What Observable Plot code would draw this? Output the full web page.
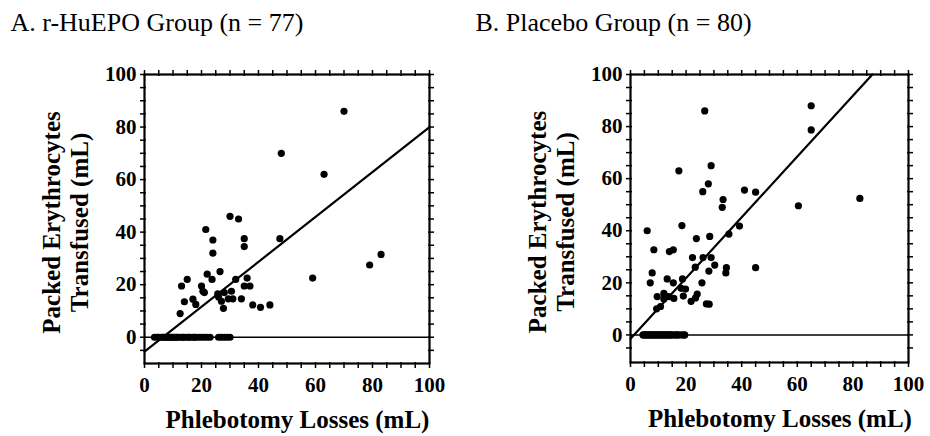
<!DOCTYPE html>
<html><head><meta charset="utf-8">
<script src="https://cdn.jsdelivr.net/npm/d3@7"></script>
<script src="https://cdn.jsdelivr.net/npm/@observablehq/plot@0.6"></script>
<style>
body{margin:0;background:#fff;}
#wrap{position:relative;width:930px;height:436px;overflow:hidden;}
.panel{position:absolute;top:0;}
</style></head><body><div id="wrap"></div>
<script>
// ---- tick labels ----
const xTickLabels = [0, 20, 40, 60, 80, 100];
const yTickLabels = [0, 20, 40, 60, 80, 100];
const xMinorTicks = [0,5,10,15,20,25,30,35,40,45,50,55,60,65,70,75,80,85,90,95,100];
const yMinorTicks = [-5,0,5,10,15,20,25,30,35,40,45,50,55,60,65,70,75,80,85,90,95,100];

// ---- text ----
const titleA = "A. r-HuEPO Group (n = 77)";
const titleB = "B. Placebo Group (n = 80)";
const yLabel = "Packed Erythrocytes\nTransfused (mL)";
const xLabel = "Phlebotomy Losses (mL)";

// ---- Panel A: r-HuEPO group ----
const aX = [70,48,63,30,33,21.5,24,35,35,47.5,24,83,79,59,26.5,22,23.7,15,13,20,20.5,21,14,17,18,12.5,32,36,35,37,30.5,28,25.7,26,29.4,31,34,27,27.7,38,40.7,44];
const aY = [86,70,62,46,45,41,37,37.5,34.5,37.5,32,31.5,27.5,22.5,25,24,22,22,19.5,19.5,17.5,17,13.5,14.5,12.5,9,22,22.5,19.5,19.5,17.5,17,16.5,15.3,14.6,14.6,14.6,13.7,11,12.3,11.4,12.3];
const aZeroX = [3.5,4.5,5,6,6.5,7,7.5,8,8.5,9,9.5,10,10.5,11,11.5,12,13,13.5,14,15,15.5,16,17,17.5,18,19,20,21,22,23,26,27,28,29,30];
const aLineX = [0, 100];
const aLineY = [-5.5, 80];

// ---- Panel B: placebo group ----
const bX = [65,65,26.7,17.4,29,28,26,41,45,33.3,33,60.4,82.5,6,18.5,39.2,35.4,23.7,28.5,8.4,14,15.4,22.3,26.1,29,23.3,30.3,34.5,34.3,28.2,45,7.8,7.1,13.2,15.4,18.7,25.7,18.2,19.8,9.6,12,12,13.8,15.6,19,24,23.4,21.8,27.3,28.3,9.4,10.8];
const bY = [88,78.7,86,63,65,58,55,55.6,54.8,52,49,49.6,52.4,40,42,41.8,38.7,37,37.8,32.7,32,32.7,29.7,29.7,29.7,26,26.8,25.8,23.8,24.5,25.8,23.8,20,21.5,20,21.5,20,17.9,17.6,14.7,16,13.8,14.7,14,14.9,15.7,14.2,12.9,11.9,11.8,10,10.9];
const bZeroX = [4.5,5,5.5,6,6.5,7,7.5,8,8.5,9,9.5,10,10.5,11,11.5,12,12.5,13,13.5,14,14.5,15,16,16.5,17,18,19,19.5];
const bLineX = [0, 87];
const bLineY = [-1.5, 100];

// tick glyphs (d3 symbol types): mostly outward, slightly crossing the frame
const tickBottom = {draw(ctx) { ctx.moveTo(0, -1.5); ctx.lineTo(0, 4.5); }};
const tickTop    = {draw(ctx) { ctx.moveTo(0, -4.5); ctx.lineTo(0, 1.5); }};
const tickLeft   = {draw(ctx) { ctx.moveTo(-4.5, 0); ctx.lineTo(1.5, 0); }};
const tickRight  = {draw(ctx) { ctx.moveTo(-1.5, 0); ctx.lineTo(4.5, 0); }};

function points(xs, ys, zeros) {
  const pts = xs.map((x, i) => ({x, y: ys[i]}));
  zeros.forEach(x => pts.push({x, y: 0}));
  return pts;
}

function panel({title, pts, lineX, lineY, width, marginLeft, marginRight, marginTop, marginBottom, yMin}) {
  const line = lineX.map((x, i) => ({x, y: lineY[i]}));
  const xDom = [0, 100], yDom = [yMin, 100];
  const tk = {fill: "none", stroke: "black", strokeWidth: 1.5, r: 3};
  return Plot.plot({
    width, height: 436,
    marginLeft, marginRight, marginTop, marginBottom,
    x: {domain: xDom},
    y: {domain: yDom},
    style: {fontFamily: "Liberation Serif", background: "white", color: "black", overflow: "visible"},
    marks: [
      Plot.dot(xMinorTicks, {x: d => d, y: () => yDom[0], symbol: tickBottom, ...tk}),
      Plot.dot(xMinorTicks, {x: d => d, y: () => yDom[1], symbol: tickTop, ...tk}),
      Plot.dot(yMinorTicks, {y: d => d, x: () => xDom[0], symbol: tickLeft, ...tk}),
      Plot.dot(yMinorTicks, {y: d => d, x: () => xDom[1], symbol: tickRight, ...tk}),
      Plot.axisX(xTickLabels, {anchor: "bottom", tickSize: 0, tickPadding: 14, fontSize: 21, fontWeight: "bold", label: null}),
      Plot.axisY(yTickLabels, {anchor: "left", tickSize: 0, tickPadding: 8, fontSize: 21, fontWeight: "bold", label: null}),
      Plot.ruleY([0], {strokeWidth: 1.5}),
      Plot.line(line, {x: "x", y: "y", strokeWidth: 2.2}),
      Plot.dot(pts, {x: "x", y: "y", r: 3.6, fill: "black", stroke: "none"}),
      Plot.frame({strokeWidth: 2.2}),
      Plot.text([title], {text: d => d, frameAnchor: "top-left", textAnchor: "start", lineAnchor: "bottom", dx: 10 - marginLeft, dy: -44, fontSize: 26}),
      Plot.text([yLabel], {text: d => d, frameAnchor: "left", rotate: -90, dx: -79, dy: 3.5, textAnchor: "middle", lineAnchor: "middle", lineHeight: 1.12, fontSize: 25, fontWeight: "bold"}),
      Plot.text([xLabel], {text: d => d, frameAnchor: "bottom", dx: 10.5, dy: 64, lineAnchor: "bottom", fontSize: 25, fontWeight: "bold"})
    ]
  });
}

const wrap = document.getElementById("wrap");
const pA = panel({title: titleA, pts: points(aX, aY, aZeroX), lineX: aLineX, lineY: aLineY,
  width: 465, marginLeft: 144, marginRight: 36, marginTop: 74, marginBottom: 73, yMin: -10});
pA.classList.add("panel"); pA.style.left = "0px";
wrap.appendChild(pA);
const pB = panel({title: titleB, pts: points(bX, bY, bZeroX), lineX: bLineX, lineY: bLineY,
  width: 465, marginLeft: 165, marginRight: 22, marginTop: 74, marginBottom: 74, yMin: -10.6});
pB.classList.add("panel"); pB.style.left = "465px";
wrap.appendChild(pB);
</script></body></html>
